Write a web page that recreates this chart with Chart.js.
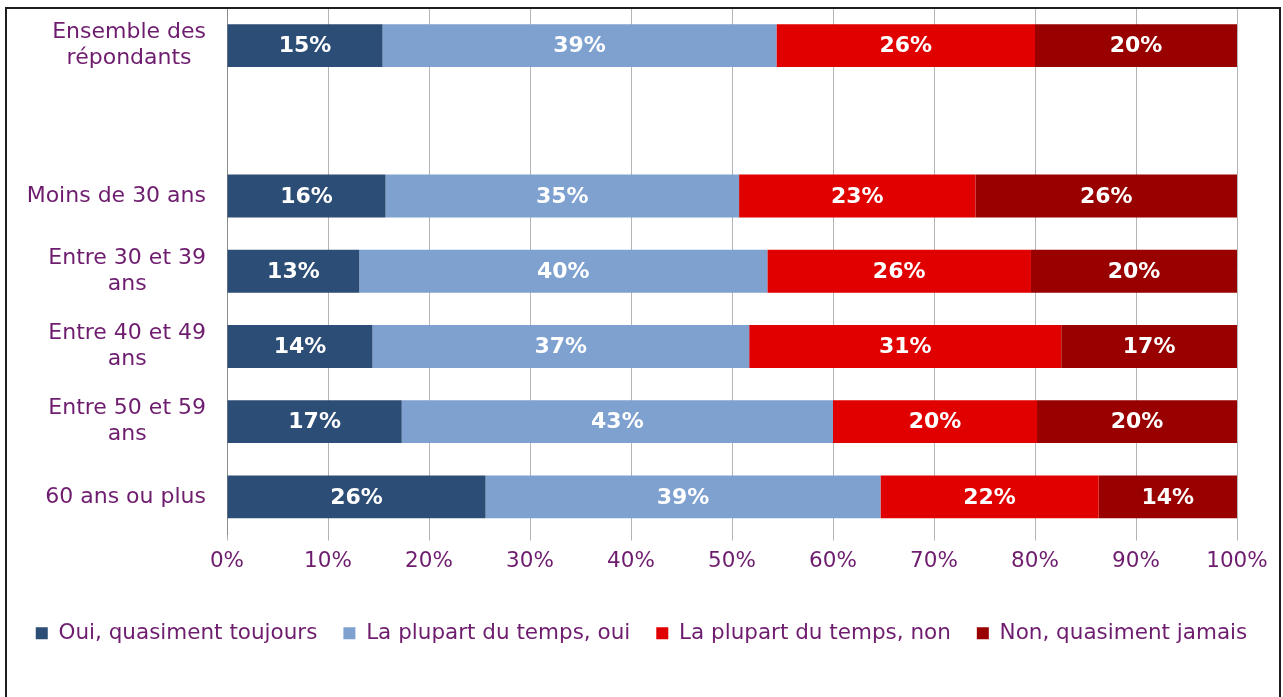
<!DOCTYPE html>
<html lang="fr">
<head>
<meta charset="UTF-8">
<title>Répartition des réponses par âge</title>
<script src="https://cdn.jsdelivr.net/npm/chart.js"></script>
<style>
  html, body { margin: 0; padding: 0; background: #fff; }
  #wrap { position: relative; width: 1283px; height: 697px; overflow: hidden; }
  #frame { position: absolute; left: 5px; top: 7px; width: 1272px; height: 720px; border: 2px solid #1e1e1e; pointer-events: none; }
</style>
</head>
<body>
<div id="wrap">
  <canvas id="chart" width="1283" height="697"></canvas>
  <div id="frame"></div>
</div>
<script>
// categories (the empty one is the gap under "Ensemble des répondants")
const categories = [
  ['Ensemble des', 'répondants'],
  '',
  'Moins de 30 ans',
  ['Entre 30 et 39', 'ans'],
  ['Entre 40 et 49', 'ans'],
  ['Entre 50 et 59', 'ans'],
  '60 ans ou plus'
];
const seriesNames = ['Oui, quasiment toujours', 'La plupart du temps, oui', 'La plupart du temps, non', 'Non, quasiment jamais'];
const ouiToujours = [15.4, null, 15.7, 13.1, 14.4, 17.3, 25.6];
const plupartOui  = [39.0, null, 35.0, 40.4, 37.3, 42.7, 39.1];
const plupartNon  = [25.6, null, 23.4, 26.1, 30.9, 20.2, 21.6];
const nonJamais   = [20.0, null, 25.9, 20.4, 17.4, 19.8, 13.7];

const colors = ['#2C4D75', '#7EA1D0', '#E00000', '#990000'];
const purple = '#6E1C6E';
const fontFamily = '"DejaVu Sans", Verdana, sans-serif';

// category labels: lines centred on each other, block right-aligned to the axis
const yLabels = {
  id: 'yLabels',
  afterDraw(chart) {
    const ctx = chart.ctx;
    const y = chart.scales.y;
    ctx.save();
    ctx.font = '22px ' + fontFamily;
    ctx.fillStyle = purple;
    ctx.textAlign = 'center';
    ctx.textBaseline = 'middle';
    categories.forEach((c, i) => {
      const lines = [].concat(c);
      const w = Math.max(...lines.map(l => ctx.measureText(l).width));
      const cx = y.right - 21 - w / 2;
      const cy = y.getPixelForValue(i);
      lines.forEach((l, k) => ctx.fillText(l, cx, cy + (k - (lines.length - 1) / 2) * 26));
    });
    ctx.restore();
  }
};

// white percentages inside the bars
const barValues = {
  id: 'barValues',
  afterDatasetsDraw(chart) {
    const ctx = chart.ctx;
    ctx.save();
    ctx.font = 'bold 22px ' + fontFamily;
    ctx.fillStyle = '#fff';
    ctx.textAlign = 'center';
    ctx.textBaseline = 'middle';
    chart.data.datasets.forEach((ds, d) => {
      chart.getDatasetMeta(d).data.forEach((bar, i) => {
        const v = ds.data[i];
        if (v == null) return;
        ctx.fillText(Math.round(v) + '%', (bar.x + bar.base) / 2, bar.y + 1);
      });
    });
    ctx.restore();
  }
};

const series = [ouiToujours, plupartOui, plupartNon, nonJamais];

new Chart(document.getElementById('chart'), {
  type: 'bar',
  data: {
    labels: categories,
    datasets: series.map((vals, i) => ({
      label: seriesNames[i],
      data: vals,
      backgroundColor: colors[i],
      borderWidth: 0,
      barPercentage: 0.57,
      categoryPercentage: 1
    }))
  },
  options: {
    indexAxis: 'y',
    responsive: false,
    animation: false,
    layout: { padding: { top: 8, left: 0, right: 0, bottom: 43 } },
    scales: {
      x: {
        stacked: true,
        min: 0,
        max: 100,
        ticks: {
          stepSize: 10,
          padding: 8,
          color: purple,
          font: { family: fontFamily, size: 21.5 },
          callback: v => v + '%'
        },
        grid: { color: '#B4B4B4', lineWidth: 1, tickLength: 6, tickColor: '#B4B4B4' },
        border: { display: false },
        afterFit: s => { s.height = 62; }
      },
      y: {
        stacked: true,
        ticks: { display: false },
        grid: { display: false },
        border: { display: true, color: '#8C8C8C', width: 1 },
        afterFit: s => { s.width = 227; }
      },
      pad: {
        type: 'linear',
        axis: 'y',
        position: 'right',
        ticks: { display: false },
        grid: { display: false },
        border: { display: false },
        afterFit: s => { s.width = 46; }
      }
    },
    plugins: {
      tooltip: { enabled: false },
      legend: {
        position: 'bottom',
        labels: {
          boxWidth: 12,
          boxHeight: 12,
          padding: 26,
          color: purple,
          font: { family: fontFamily, size: 21.5 }
        }
      }
    }
  },
  plugins: [yLabels, barValues]
});
</script>
</body>
</html>
